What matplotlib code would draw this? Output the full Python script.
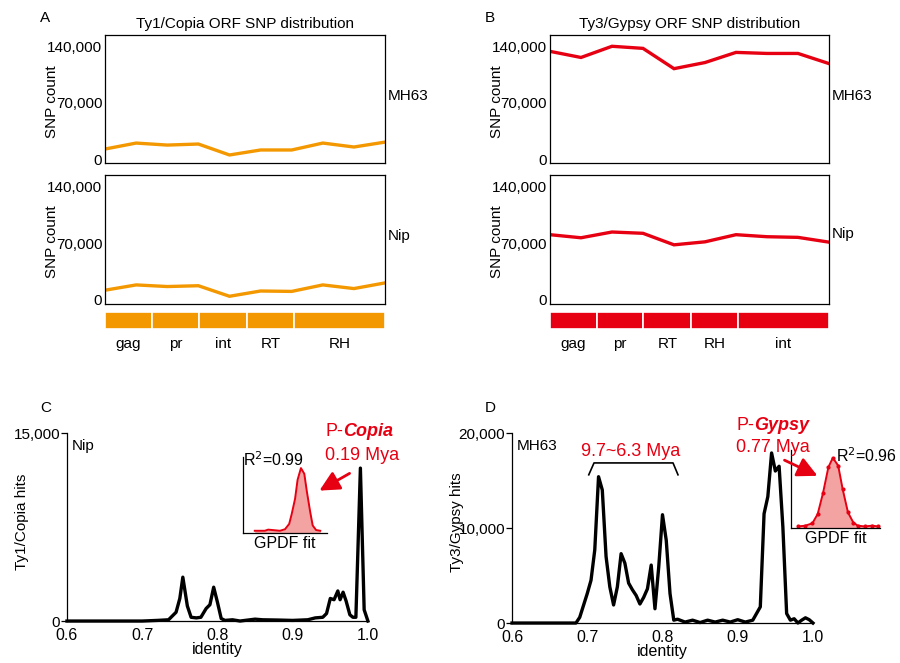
import numpy as np
import matplotlib
matplotlib.use("Agg")
import matplotlib.pyplot as plt

plt.rcParams['font.family'] = ['Liberation Sans', 'DejaVu Sans']
plt.rcParams['font.size'] = 10.5
plt.rcParams['axes.linewidth'] = 0.9

ORANGE = '#F39800'
RED = '#E60012'
PINK = '#F4A3A3'

# --- SNP distribution along ORF (10 windows) ---
win = np.arange(10)
copia_mh63 = [12400, 19800, 17300, 18600, 5000, 11200, 11200, 19800, 14900, 21000]
copia_nip = [12000, 18500, 16500, 17500, 4500, 11000, 10500, 18500, 14000, 21000]
gypsy_mh63 = [133700, 126100, 140000, 137400, 112200, 119800, 132400, 131100, 131100, 118500]
gypsy_nip = [80400, 76600, 83700, 82100, 67900, 71600, 80400, 77900, 77100, 71200]

copia_domains = ['gag', 'pr', 'int', 'RT', 'RH']
copia_dom_len = [1, 1, 1.02, 1, 1.93]
gypsy_domains = ['gag', 'pr', 'RT', 'RH', 'int']
gypsy_dom_len = [1, 1, 1.03, 1, 1.95]

snp_ticks = [0, 70000, 140000]
snp_ticklabels = ['0', '70,000', '140,000']

# --- identity distributions ---
c_ident = [0.60, 0.65, 0.70, 0.72, 0.735, 0.745, 0.75, 0.754, 0.76, 0.765, 0.772, 0.778,
           0.785, 0.79, 0.795, 0.80, 0.805, 0.81, 0.82, 0.83, 0.85, 0.86, 0.88, 0.90,
           0.92, 0.93, 0.94, 0.945, 0.95, 0.955, 0.96, 0.963, 0.967, 0.971, 0.976, 0.98,
           0.984, 0.99, 0.995, 1.0]
c_hits = [0, 0, 0, 50, 100, 700, 1800, 3500, 1200, 300, 250, 300,
          1000, 1300, 2700, 1500, 200, 50, 100, 0, 150, 100, 80, 50,
          100, 250, 300, 600, 1800, 1700, 2400, 1700, 2300, 1600, 500, 300,
          300, 12200, 900, 0]

d_ident = [0.60, 0.65, 0.685, 0.69, 0.70, 0.705, 0.71, 0.715, 0.72, 0.725, 0.73, 0.735,
           0.74, 0.745, 0.75, 0.755, 0.76, 0.765, 0.77, 0.775, 0.78, 0.785, 0.79, 0.795,
           0.80, 0.805, 0.81, 0.815, 0.82, 0.83, 0.84, 0.85, 0.86, 0.87, 0.88, 0.89,
           0.90, 0.91, 0.92, 0.925, 0.93, 0.935, 0.94, 0.945, 0.95, 0.955, 0.96, 0.965,
           0.97, 0.975, 0.98, 0.985, 0.99, 0.995, 1.0]
d_hits = [0, 0, 0, 600, 3100, 4500, 7700, 15400, 14000, 7000, 3800, 1900,
          3800, 7300, 6300, 4200, 3500, 2900, 2000, 2700, 3600, 6100, 1500, 5900,
          11400, 8700, 3100, 300, 400, 100, 300, 50, 300, 100, 300, 100,
          350, 100, 300, 1000, 1700, 11500, 13300, 17900, 16000, 16500, 10100, 1000,
          300, 450, 0, 300, 550, 350, 0]

# GPDF fit insets (normalised)
ins_c_x = [0.14, 0.26, 0.30, 0.44, 0.50, 0.55, 0.58, 0.62, 0.65, 0.69, 0.73, 0.76, 0.80, 0.83, 0.87, 0.92]
ins_c_y = [0.03, 0.03, 0.045, 0.03, 0.05, 0.12, 0.25, 0.45, 0.70, 0.855, 0.78, 0.55, 0.28, 0.10, 0.04, 0.03]
ins_d_x = [0.08, 0.16, 0.24, 0.30, 0.36, 0.42, 0.47, 0.53, 0.58, 0.64, 0.70, 0.75, 0.83, 0.91, 0.98]
ins_d_y = [0.02, 0.03, 0.06, 0.18, 0.45, 0.78, 0.90, 0.80, 0.50, 0.20, 0.07, 0.03, 0.02, 0.03, 0.02]

fig = plt.figure(figsize=(9, 6.63), dpi=100)


def snp_panel(rect, y, color, tag, tag_y):
    ax = fig.add_axes(rect)
    ax.plot(win, y, color=color, lw=2.4, solid_joinstyle='miter')
    ax.set_xlim(0, 9)
    ax.set_ylim(-5000, 154000)
    ax.set_xticks([])
    ax.set_yticks(snp_ticks)
    ax.set_yticklabels(snp_ticklabels, fontsize=11)
    ax.tick_params(axis='y', length=0, pad=2)
    ax.set_ylabel('SNP count', fontsize=11)
    ax.yaxis.set_label_coords(-0.165, 0.48)
    ax.text(1.01, tag_y, tag, transform=ax.transAxes, va='center', ha='left', fontsize=11)
    return ax


def domain_bar(rect, names, lens, color):
    ax = fig.add_axes(rect)
    left = np.concatenate([[0], np.cumsum(lens)[:-1]])
    ax.barh(0, lens, left=left, height=1, color=color, edgecolor='white', linewidth=1.2)
    ax.set_xlim(0, sum(lens))
    ax.set_ylim(-0.5, 0.5)
    ax.axis('off')
    for l, w, n in zip(left, lens, names):
        ax.text(l + w / 2, -1.4, n, ha='center', va='center', fontsize=11, clip_on=False)


a1 = snp_panel([0.1167, 0.7541, 0.3111, 0.1931], copia_mh63, ORANGE, 'MH63', 0.52)
a1.set_title('Ty1/Copia ORF SNP distribution', fontsize=11, pad=5)
a2 = snp_panel([0.1167, 0.5415, 0.3111, 0.1946], copia_nip, ORANGE, 'Nip', 0.53)
domain_bar([0.1167, 0.5038, 0.3111, 0.0256], copia_domains, copia_dom_len, ORANGE)

b1 = snp_panel([0.6111, 0.7541, 0.31, 0.1931], gypsy_mh63, RED, 'MH63', 0.52)
b1.set_title('Ty3/Gypsy ORF SNP distribution', fontsize=11, pad=5)
b2 = snp_panel([0.6111, 0.5415, 0.31, 0.1946], gypsy_nip, RED, 'Nip', 0.54)
domain_bar([0.6111, 0.5038, 0.31, 0.0256], gypsy_domains, gypsy_dom_len, RED)


def ident_panel(rect, x, y, ymax, yticks, yticklabels, ylabel, lab_xy, tag):
    ax = fig.add_axes(rect)
    ax.plot(x, y, color='black', lw=2.4, clip_on=False)
    ax.set_xlim(0.6, 1.0)
    ax.set_ylim(0, ymax)
    ax.spines['top'].set_visible(False)
    ax.spines['right'].set_visible(False)
    ax.set_xticks([0.6, 0.7, 0.8, 0.9, 1.0])
    ax.set_xticklabels(['0.6', '0.7', '0.8', '0.9', '1.0'], fontsize=11.5)
    ax.set_yticks(yticks)
    ax.set_yticklabels(yticklabels, fontsize=11)
    ax.tick_params(axis='y', length=4, width=0.9, pad=1)
    ax.tick_params(axis='x', length=0, pad=5)
    ax.set_xlabel('identity', labelpad=-1, fontsize=11.5)
    ax.set_ylabel(ylabel, fontsize=11)
    ax.yaxis.set_label_coords(*lab_xy)
    ax.text(0.015, 0.93, tag, transform=ax.transAxes, ha='left', va='center', fontsize=11)
    return ax


c = ident_panel([0.0744, 0.0633, 0.3344, 0.2836], c_ident, c_hits, 15000,
                [0, 15000], ['0', '15,000'], 'Ty1/Copia hits', (-0.125, 0.53), 'Nip')
d = ident_panel([0.5689, 0.0603, 0.3344, 0.2866], d_ident, d_hits, 20000,
                [0, 10000, 20000], ['0', '10,000', '20,000'], 'Ty3/Gypsy hits', (-0.16, 0.53), 'MH63')


def inset(rect, x, y, r2, r2_pos, markers):
    ax = fig.add_axes(rect)
    ax.fill_between(x, 0, y, color=PINK, lw=0)
    ax.plot(x, y, color=RED, lw=1.4, marker='o' if markers else None, ms=2)
    ax.set_xlim(0, 1)
    ax.set_ylim(0, 1)
    ax.spines['top'].set_visible(False)
    ax.spines['right'].set_visible(False)
    ax.set_xticks([])
    ax.set_yticks([])
    ax.set_xlabel('GPDF fit', labelpad=2, fontsize=11.5)
    ax.text(r2_pos[0], r2_pos[1], 'R$^2$=' + r2, transform=ax.transAxes,
            ha='left', va='center', fontsize=11.5)
    ax.patch.set_alpha(0)
    return ax


inset([0.27, 0.196, 0.0933, 0.1146], ins_c_x, ins_c_y, '0.99', (0.0, 0.97), False)
inset([0.8789, 0.2036, 0.0989, 0.1176], ins_d_x, ins_d_y, '0.96', (0.5, 0.93), True)

# red annotations
fig.text(0.381, 1 - 431 / 663, 'P-', color=RED, fontsize=13, ha='right', va='center')
fig.text(0.381, 1 - 431 / 663, 'Copia', color=RED, fontsize=13, ha='left', va='center',
         fontweight='bold', fontstyle='italic')
fig.text(362 / 900, 1 - 455 / 663, '0.19 Mya', color=RED, fontsize=13, ha='center', va='center')
fig.add_artist(matplotlib.patches.FancyArrowPatch(
    (352 / 900, 1 - 472 / 663), (317 / 900, 1 - 492 / 663), transform=fig.transFigure,
    arrowstyle='-|>', mutation_scale=30, color=RED, lw=2))

fig.text(754 / 900, 1 - 425 / 663, 'P-', color=RED, fontsize=13, ha='right', va='center')
fig.text(754 / 900, 1 - 425 / 663, 'Gypsy', color=RED, fontsize=13, ha='left', va='center',
         fontweight='bold', fontstyle='italic')
fig.text(773 / 900, 1 - 447 / 663, '0.77 Mya', color=RED, fontsize=13, ha='center', va='center')
fig.add_artist(matplotlib.patches.FancyArrowPatch(
    (782 / 900, 1 - 459 / 663), (820 / 900, 1 - 477 / 663), transform=fig.transFigure,
    arrowstyle='-|>', mutation_scale=30, color=RED, lw=2))

# bracket for old Gypsy bursts
d.plot([0.702, 0.709, 0.814, 0.8206], [15600, 16850, 16850, 15600], color='black', lw=1.2, clip_on=False)
d.text(0.757, 18100, '9.7~6.3 Mya', color=RED, fontsize=13, ha='center', va='center')

# panel letters
for lbl, x, y in [('A', 40, 18), ('B', 485, 18), ('C', 40, 408), ('D', 485, 408)]:
    fig.text(x / 900, 1 - y / 663, lbl, fontsize=11, ha='left', va='center')

fig.savefig('out.png', dpi=100)
